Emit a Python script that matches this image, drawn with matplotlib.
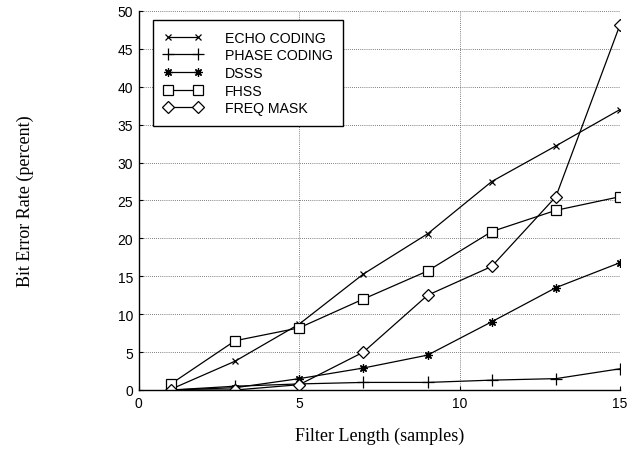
import matplotlib
matplotlib.use("Agg")
import matplotlib.pyplot as plt

x = [1, 3, 5, 7, 9, 11, 13, 15]
echo = [0.1, 3.8, 8.7, 15.3, 20.6, 27.5, 32.2, 37.0]
phase = [0.0, 0.5, 0.8, 1.0, 1.0, 1.3, 1.5, 2.8]
dsss = [0.0, 0.3, 1.5, 2.9, 4.6, 9.0, 13.5, 16.8]
fhss = [0.8, 6.5, 8.2, 12.0, 15.7, 20.9, 23.7, 25.5]
freqmask = [0.0, 0.0, 0.7, 5.0, 12.5, 16.3, 25.5, 48.2]
labels = ["ECHO CODING", "PHASE CODING", "DSSS", "FHSS", "FREQ MASK"]
xticks = [0, 5, 10, 15]
yticks = [0, 5, 10, 15, 20, 25, 30, 35, 40, 45, 50]

fig = plt.figure(figsize=(6.34, 4.6), dpi=100)
ax = fig.add_axes([0.219, 0.15, 0.759, 0.824])

sans = ["Liberation Sans", "DejaVu Sans"]
serif = ["Liberation Serif", "DejaVu Serif"]

kw = dict(color="black", linewidth=0.9)
ax.plot(x, echo, marker="x", markersize=4.5, markeredgewidth=0.9, label=labels[0], **kw)
ax.plot(x, phase, marker="+", markersize=8, markeredgewidth=0.9, label=labels[1], **kw)
ax.plot(x, dsss, marker=(8, 2, 0), markersize=6, markeredgewidth=0.9, label=labels[2], **kw)
ax.plot(x, fhss, marker="s", markersize=7.5, markerfacecolor="white", markeredgewidth=0.9, label=labels[3], **kw)
ax.plot(x, freqmask, marker="D", markersize=6, markerfacecolor="white", markeredgewidth=0.9, label=labels[4], **kw)

ax.set_xlim(0, 15)
ax.set_ylim(0, 50)
ax.set_xticks(xticks)
ax.set_yticks(yticks)
ax.grid(True, linestyle=(0, (1, 1.5)), color="#555555", linewidth=0.6)
for s in ["top", "right"]:
    ax.spines[s].set_visible(False)
for s in ["left", "bottom"]:
    ax.spines[s].set_linewidth(1.0)
ax.tick_params(direction="in", length=3, width=0.8, labelsize=10, pad=4)
for t in ax.get_xticklabels() + ax.get_yticklabels():
    t.set_family(sans)

ax.set_xlabel("Filter Length (samples)", fontsize=13, family=serif, labelpad=12)
ax.set_ylabel("Bit Error Rate (percent)", fontsize=13, family=serif, labelpad=60)

leg = ax.legend(loc="upper left", bbox_to_anchor=(153 / 634, 1 - 21 / 460),
                bbox_transform=fig.transFigure, borderaxespad=0,
                frameon=True, fancybox=False, numpoints=2,
                edgecolor="black", framealpha=1, prop={"family": sans, "size": 10.2},
                handlelength=2.7, handletextpad=1.6, labelspacing=0.26, borderpad=0.75)
leg.get_frame().set_linewidth(1.0)

fig.savefig("out.png", dpi=100)
